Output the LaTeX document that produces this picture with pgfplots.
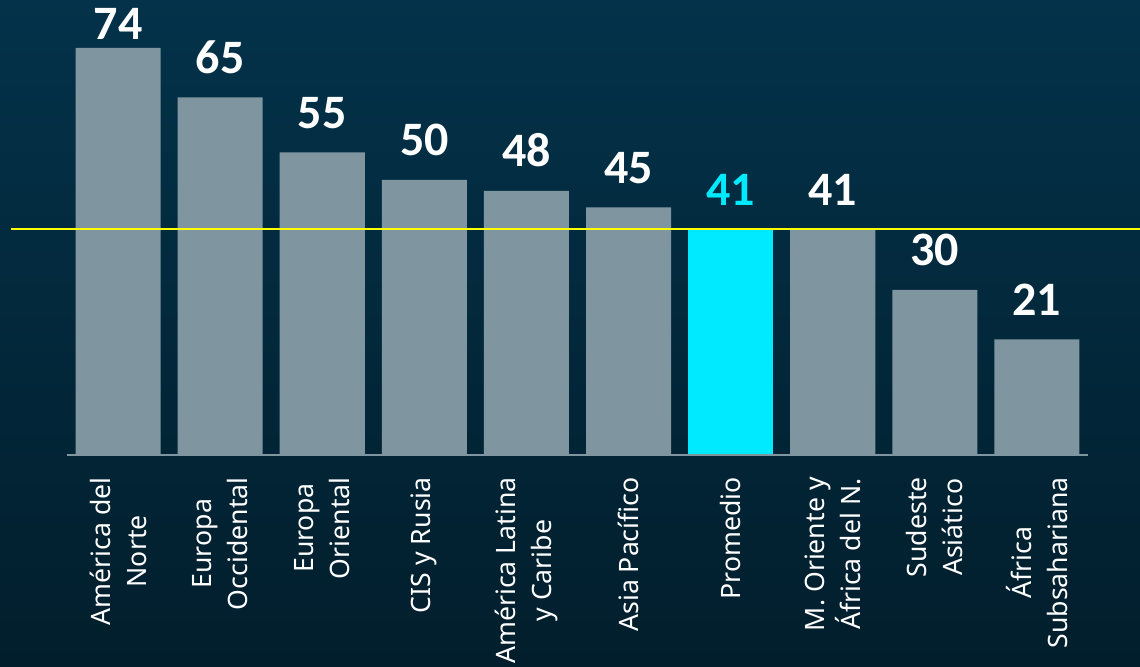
\documentclass[border=0pt]{standalone}
\usepackage{pgfplots}
\pgfplotsset{compat=1.18}
\usepackage{fontspec}
\setmainfont{Noto Sans}
\newfontfamily\numfont{Carlito}
\definecolor{bgTop}{HTML}{03324A}
\definecolor{bgBot}{HTML}{021E2C}
\definecolor{barGray}{HTML}{7F96A0}
\definecolor{cyanB}{HTML}{00EAFF}
\definecolor{yelLine}{RGB}{255,255,0}
\begin{document}
\begin{tikzpicture}
\clip (0,0) rectangle (684pt,400.2pt);
\shade[top color=bgTop, bottom color=bgBot] (0,0) rectangle (684pt,400.2pt);
\begin{axis}[
  at={(40.2pt,127.2pt)}, anchor=south west,
  scale only axis, width=612.6pt, height=273pt,
  xmin=-0.5, xmax=9.5, ymin=0, ymax=82.7,
  axis line style={draw=none},
  ytick=\empty,
  xtick={0,...,9},
  major tick length=0pt,
  xticklabels={{América del\\Norte},{Europa\\Occidental},{Europa\\Oriental},{CIS y Rusia},{América Latina\\y Caribe},{Asia Pacífico},{Promedio},{M. Oriente y\\África del N.},{Sudeste\\Asiático},{África\\Subsahariana}},
  xticklabel style={rotate=90, anchor=east, align=center, inner sep=0pt, text=white,
    font=\fontsize{16pt}{21.6pt}\selectfont},
  xticklabel shift=13.2pt,
  clip=false,
]
\addplot[ybar, bar width=0.833, bar shift=0pt, fill=barGray, draw=none]
  coordinates {(0,74) (1,65) (2,55) (3,50) (4,48) (5,45) (7,41) (8,30) (9,21)};
\addplot[ybar, bar width=0.833, bar shift=0pt, fill=cyanB, draw=none]
  coordinates {(6,41)};
\addplot[draw=barGray, line width=0.9pt, mark=none] coordinates {(-0.5,0) (9.5,0)};
\addplot[draw=yelLine, line width=1.1pt, mark=none, opacity=1] coordinates {(-1.053,41) (10.01,41)};
\addplot[draw=none, mark=none, nodes near coords, point meta=explicit symbolic,
  visualization depends on={\thisrow{off} \as \off},
  every node near coord/.style={anchor=base, yshift=\off, text=white, inner sep=0pt,
    font=\numfont\bfseries\fontsize{28.8pt}{30pt}\selectfont}]
  table[x=x, y=y, meta=lab] {
x y lab off
0 74 74 5.1pt
1 65 65 14.4pt
2 55 55 14.4pt
3 50 50 14.4pt
4 48 48 14.4pt
5 45 45 14.4pt
7 41 41 14.4pt
8 30 30 14.4pt
9 21 21 14.4pt
};
\addplot[draw=none, mark=none, nodes near coords, point meta=explicit symbolic,
  every node near coord/.style={anchor=base, yshift=14.4pt, text=cyanB, inner sep=0pt,
    font=\numfont\bfseries\fontsize{28.8pt}{30pt}\selectfont}]
  table[x=x, y=y, meta=lab] {
x y lab
6 41 41
};
\end{axis}
\end{tikzpicture}
\end{document}
